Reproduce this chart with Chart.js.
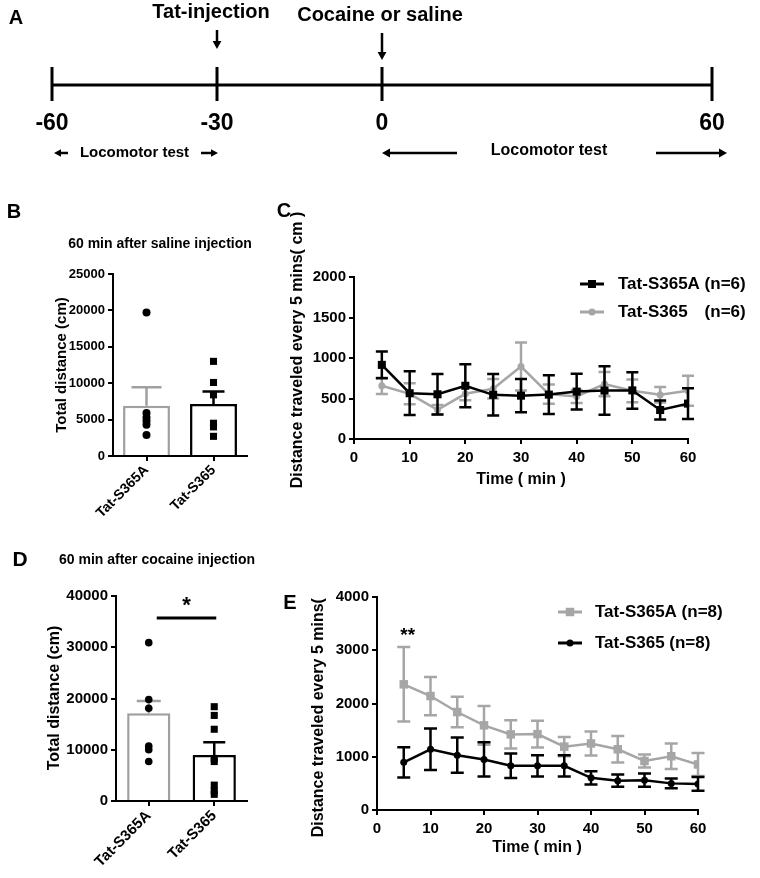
<!DOCTYPE html>
<html>
<head>
<meta charset="utf-8">
<script src="https://cdn.jsdelivr.net/npm/chart.js@4.4.1/dist/chart.umd.min.js"></script>
<style>
  body { margin: 0; background: #fff; }
  #fig { position: relative; width: 760px; height: 878px; overflow: hidden; }
  #fig canvas { position: absolute; }
</style>
</head>
<body>
<div id="fig">
  <canvas id="cA" width="760" height="170" style="left:0px;top:0px"></canvas>
  <canvas id="cB" width="270" height="345" style="left:0px;top:195px"></canvas>
  <canvas id="cC" width="490" height="300" style="left:270px;top:195px"></canvas>
  <canvas id="cD" width="270" height="333" style="left:0px;top:545px"></canvas>
  <canvas id="cE" width="490" height="298" style="left:270px;top:580px"></canvas>
</div>
<script>
// timeline (panel A)
const timelineTicks = [-60, -30, 0, 60];

// panels B / D : total distance, 60 min
const groups = ['Tat-S365A', 'Tat-S365'];
const salineMean = [6900, 7150];
const salineSem = [2530, 1700];
const salineDotsA = [19700, 5900, 5300, 4800, 4300, 2900];
const salineDotsB = [13000, 10100, 8400, 4500, 4000, 2700];
const cocaineMean = [17100, 9000];
const cocaineSem = [2400, 2450];
const cocaineDotsA = [30900, 19800, 18100, 10700, 10000, 7700];
const cocaineDotsB = [18400, 16700, 14000, 8300, 7700, 3100, 2000, 1300];

// panels C / E : distance every 5 min
const timeMin = [5, 10, 15, 20, 25, 30, 35, 40, 45, 50, 55, 60];
const salS365A = [915, 565, 552, 657, 545, 535, 548, 585, 598, 600, 358, 437];
const salS365ASem = [165, 270, 250, 265, 256, 205, 240, 220, 300, 225, 118, 190];
const salS365 = [657, 558, 361, 558, 620, 895, 554, 525, 678, 595, 546, 595];
const salS365Sem = [100, 130, 60, 80, 120, 295, 120, 80, 150, 140, 95, 185];
const cocS365A = [2360, 2140, 1840, 1590, 1420, 1425, 1190, 1250, 1140, 920, 1010, 855];
const cocS365ASem = [700, 360, 285, 365, 265, 250, 180, 225, 250, 120, 240, 215];
const cocS365 = [895, 1140, 1030, 950, 830, 830, 830, 605, 550, 560, 500, 490];
const cocS365Sem = [285, 390, 330, 320, 230, 200, 200, 125, 115, 125, 90, 130];

const FONT = '"Liberation Sans", Arial, sans-serif';
const GRAY = '#a6a6a6';
Chart.defaults.font.family = FONT;
Chart.defaults.font.weight = 'bold';
Chart.defaults.color = '#000';
Chart.defaults.animation = false;
Chart.defaults.plugins.legend.display = false;
Chart.defaults.plugins.tooltip.enabled = false;

function txt(ctx, s, x, y, size, o = {}) {
  ctx.save();
  ctx.font = 'bold ' + size + 'px ' + FONT;
  ctx.fillStyle = o.color || '#000';
  ctx.textAlign = o.align || 'center';
  ctx.textBaseline = 'middle';
  ctx.translate(x, y);
  if (o.rot) ctx.rotate(o.rot);
  ctx.fillText(s, 0, 0);
  ctx.restore();
}

function arrow(ctx, x1, y1, x2, y2, w, head) {
  const a = Math.atan2(y2 - y1, x2 - x1);
  ctx.save();
  ctx.strokeStyle = '#000';
  ctx.fillStyle = '#000';
  ctx.lineWidth = w;
  ctx.beginPath();
  ctx.moveTo(x1, y1);
  ctx.lineTo(x2 - Math.cos(a) * head * 0.8, y2 - Math.sin(a) * head * 0.8);
  ctx.stroke();
  ctx.beginPath();
  ctx.moveTo(x2, y2);
  ctx.lineTo(x2 - head * Math.cos(a) + head * 0.55 * Math.sin(a), y2 - head * Math.sin(a) - head * 0.55 * Math.cos(a));
  ctx.lineTo(x2 - head * Math.cos(a) - head * 0.55 * Math.sin(a), y2 - head * Math.sin(a) + head * 0.55 * Math.cos(a));
  ctx.closePath();
  ctx.fill();
  ctx.restore();
}

function marker(ctx, style, x, y, r, color) {
  ctx.save();
  ctx.fillStyle = color;
  ctx.beginPath();
  if (style === 'rect') {
    const h = r * Math.SQRT1_2;
    ctx.rect(x - h, y - h, 2 * h, 2 * h);
  } else {
    ctx.arc(x, y, r, 0, Math.PI * 2);
  }
  ctx.fill();
  ctx.restore();
}

// mean +/- SEM bars, drawn right after each dataset
const errorBars = {
  id: 'errorBars',
  afterDatasetDraw(chart, args) {
    const ds = chart.data.datasets[args.index];
    if (!ds.sem) return;
    const ys = chart.scales.y;
    const ctx = chart.ctx;
    ctx.save();
    ctx.lineWidth = ds.errWidth || 2.5;
    args.meta.data.forEach((el, i) => {
      const d = ds.data[i];
      const m = typeof d === 'object' ? d.y : d;
      const col = Array.isArray(ds.errColor) ? ds.errColor[i] : ds.errColor;
      const half = Array.isArray(ds.capHalf) ? ds.capHalf[i] : ds.capHalf;
      const top = ys.getPixelForValue(m + ds.sem[i]);
      const bot = ds.upOnly ? el.y : ys.getPixelForValue(m - ds.sem[i]);
      ctx.strokeStyle = col;
      ctx.beginPath();
      ctx.moveTo(el.x, bot); ctx.lineTo(el.x, top);
      ctx.moveTo(el.x - half, top); ctx.lineTo(el.x + half, top);
      if (!ds.upOnly) { ctx.moveTo(el.x - half, bot); ctx.lineTo(el.x + half, bot); }
      ctx.stroke();
    });
    ctx.restore();
  }
};

function axisStyle(tickSize) {
  return {
    grid: { drawOnChartArea: false, drawTicks: true, tickLength: 5, color: '#000', lineWidth: 2 },
    border: { display: true, color: '#000', width: 2 },
    ticks: { font: { size: tickSize, weight: 'bold' }, color: '#000', autoSkip: false }
  };
}

function barScales(max, step, tickSize, xSize, yW, xH) {
  const x = axisStyle(xSize);
  x.type = 'category';
  x.offset = true;
  x.grid.offset = false;
  x.ticks.maxRotation = 45;
  x.ticks.minRotation = 45;
  x.ticks.padding = 1;
  x.afterFit = s => { s.height = xH; };
  const y = axisStyle(tickSize);
  y.min = 0; y.max = max;
  y.ticks.stepSize = step;
  y.ticks.padding = 3;
  y.ticks.callback = v => String(v);
  y.afterFit = s => { s.width = yW; };
  return { x, y };
}

function lineScales(ymax, ystep, yW, xH) {
  const x = axisStyle(15);
  x.type = 'linear';
  x.min = 0; x.max = 60;
  x.ticks.stepSize = 10;
  x.ticks.padding = 5;
  x.afterFit = s => { s.height = xH; };
  const y = axisStyle(15);
  y.min = 0; y.max = ymax;
  y.ticks.stepSize = ystep;
  y.ticks.padding = 3;
  y.ticks.callback = v => String(v);
  y.afterFit = s => { s.width = yW; };
  return { x, y };
}

const pts = (arr) => timeMin.map((t, i) => ({ x: t, y: arr[i] }));
const dots = (g, arr) => arr.map(v => ({ x: g, y: v }));

// ---------- A : timeline ----------
new Chart(document.getElementById('cA'), {
  type: 'line',
  data: {
    datasets: [{
      data: [{ x: timelineTicks[0], y: 0 }, { x: timelineTicks[timelineTicks.length - 1], y: 0 }],
      borderColor: '#000', borderWidth: 3, pointRadius: 0
    }]
  },
  options: {
    responsive: false,
    layout: { padding: { left: 52, right: 48, top: 70, bottom: 0 } },
    scales: {
      x: {
        type: 'linear', min: -60, max: 60,
        afterBuildTicks: s => { s.ticks = timelineTicks.map(v => ({ value: v })); },
        grid: { display: false }, border: { display: false },
        ticks: { font: { size: 23, weight: 'bold' }, color: '#000', padding: 2 },
        afterFit: s => { s.height = 70; }
      },
      y: { display: false, min: -1, max: 1 }
    }
  },
  plugins: [{
    id: 'timeline',
    afterDraw(chart) {
      const ctx = chart.ctx, xs = chart.scales.x;
      const yl = chart.scales.y.getPixelForValue(0);
      const px = v => xs.getPixelForValue(v);
      ctx.save();
      ctx.strokeStyle = '#000';
      ctx.lineWidth = 3;
      timelineTicks.forEach(v => {
        ctx.beginPath();
        ctx.moveTo(px(v), yl - 18); ctx.lineTo(px(v), yl + 16);
        ctx.stroke();
      });
      ctx.restore();
      txt(ctx, 'A', 16, 18, 20);
      txt(ctx, 'Tat-injection', px(-30) - 6, 12, 20);
      arrow(ctx, px(-30), 30, px(-30), 49, 2.5, 8);
      txt(ctx, 'Cocaine or saline', px(0) - 2, 15, 20);
      arrow(ctx, px(0), 33, px(0), 60, 2.5, 8);
      const yb = 153;
      arrow(ctx, px(-60) + 16, yb, px(-60) + 2, yb, 2.5, 7);
      arrow(ctx, px(-30) - 16, yb, px(-30) + 1, yb, 2.5, 7);
      txt(ctx, 'Locomotor test', (px(-60) + px(-30)) / 2, yb, 15);
      arrow(ctx, px(0) + 75, yb, px(0), yb, 2.5, 8);
      arrow(ctx, px(60) - 56, yb, px(60) + 15, yb, 2.5, 8);
      txt(ctx, 'Locomotor test', (px(0) + px(60)) / 2 + 2, yb - 2, 16);
    }
  }]
});

// ---------- B : saline totals ----------
new Chart(document.getElementById('cB'), {
  type: 'bar',
  data: {
    labels: groups,
    datasets: [
      { type: 'scatter', data: dots(groups[0], salineDotsA), pointStyle: 'circle', pointRadius: 4, backgroundColor: '#000', borderColor: '#000', borderWidth: 0 },
      { type: 'scatter', data: dots(groups[1], salineDotsB), pointStyle: 'rect', pointRadius: 5, backgroundColor: '#000', borderColor: '#000', borderWidth: 0 },
      {
        data: salineMean, backgroundColor: '#fff', borderColor: ['#a0a0a0', '#000'], borderWidth: 2.5,
        barPercentage: 0.7, categoryPercentage: 1,
        sem: salineSem, upOnly: true, errColor: ['#a0a0a0', '#000'], capHalf: [15, 11]
      }
    ]
  },
  options: {
    responsive: false,
    layout: { padding: { left: 0, top: 79, right: 23, bottom: 0 } },
    scales: barScales(25000, 5000, 13, 14, 113, 84)
  },
  plugins: [errorBars, {
    id: 'decoB',
    afterDraw(chart) {
      const ctx = chart.ctx;
      txt(ctx, 'B', 14, 17, 20);
      txt(ctx, '60 min after saline injection', 160, 49, 14);
      txt(ctx, 'Total distance (cm)', 62, 170, 15, { rot: -Math.PI / 2 });
    }
  }]
});

// ---------- C : saline time course ----------
new Chart(document.getElementById('cC'), {
  type: 'line',
  data: {
    datasets: [
      {
        data: pts(salS365A), borderColor: '#000', borderWidth: 2.5, tension: 0,
        pointStyle: 'rect', pointRadius: 5.7, pointBackgroundColor: '#000', pointBorderWidth: 0,
        sem: salS365ASem, errColor: '#000', capHalf: 6
      },
      {
        data: pts(salS365), borderColor: GRAY, borderWidth: 2.5, tension: 0,
        pointStyle: 'circle', pointRadius: 3.5, pointBackgroundColor: GRAY, pointBorderWidth: 0,
        sem: salS365Sem, errColor: GRAY, capHalf: 6
      }
    ]
  },
  options: {
    responsive: false,
    layout: { padding: { left: 0, top: 82, right: 72, bottom: 0 } },
    scales: lineScales(2000, 500, 84, 56)
  },
  plugins: [errorBars, {
    id: 'decoC',
    afterDraw(chart) {
      const ctx = chart.ctx;
      txt(ctx, 'Distance traveled every 5 mins( cm )', 28, 155, 16, { rot: -Math.PI / 2 });
      txt(ctx, 'C', 14, 16, 20);
      txt(ctx, 'Time ( min )', 251, 285, 16);
      ctx.save();
      ctx.lineWidth = 3;
      [[89, '#000', 'rect', 5.7], [117, GRAY, 'circle', 3.5]].forEach(([y, c, st, r]) => {
        ctx.strokeStyle = c;
        ctx.beginPath(); ctx.moveTo(310, y); ctx.lineTo(334, y); ctx.stroke();
        marker(ctx, st, 322, y, r, c);
      });
      ctx.restore();
      ctx.font = 'bold 17px ' + FONT;
      const w = ctx.measureText('Tat-S365A (n=6)').width;
      txt(ctx, 'Tat-S365A (n=6)', 348, 89, 17, { align: 'left' });
      txt(ctx, 'Tat-S365', 348, 117, 17, { align: 'left' });
      txt(ctx, '(n=6)', 348 + w, 117, 17, { align: 'right' });
    }
  }]
});

// ---------- D : cocaine totals ----------
new Chart(document.getElementById('cD'), {
  type: 'bar',
  data: {
    labels: groups,
    datasets: [
      { type: 'scatter', data: dots(groups[0], cocaineDotsA), pointStyle: 'circle', pointRadius: 3.8, backgroundColor: '#000', borderColor: '#000', borderWidth: 0 },
      { type: 'scatter', data: dots(groups[1], cocaineDotsB), pointStyle: 'rect', pointRadius: 5, backgroundColor: '#000', borderColor: '#000', borderWidth: 0 },
      {
        data: cocaineMean, backgroundColor: '#fff', borderColor: ['#a0a0a0', '#000'], borderWidth: 2.5,
        barPercentage: 0.66, categoryPercentage: 1,
        sem: cocaineSem, upOnly: true, errColor: ['#a0a0a0', '#000'], capHalf: [12, 11]
      }
    ]
  },
  options: {
    responsive: false,
    layout: { padding: { left: 0, top: 51, right: 23, bottom: 0 } },
    scales: barScales(40000, 10000, 15, 15, 116, 77)
  },
  plugins: [errorBars, {
    id: 'decoD',
    afterDraw(chart) {
      const ctx = chart.ctx, xs = chart.scales.x, ys = chart.scales.y;
      txt(ctx, 'D', 20, 15, 21);
      txt(ctx, '60 min after cocaine injection', 157, 15, 14);
      txt(ctx, 'Total distance (cm)', 55, 153, 16, { rot: -Math.PI / 2 });
      const yl = ys.getPixelForValue(35700);
      ctx.save();
      ctx.strokeStyle = '#000';
      ctx.lineWidth = 3;
      ctx.beginPath();
      ctx.moveTo(xs.getPixelForValue(0) + 8, yl);
      ctx.lineTo(xs.getPixelForValue(1) + 2, yl);
      ctx.stroke();
      ctx.restore();
      txt(ctx, '*', (xs.getPixelForValue(0) + xs.getPixelForValue(1)) / 2 + 5, ys.getPixelForValue(38000), 22);
    }
  }]
});

// ---------- E : cocaine time course ----------
new Chart(document.getElementById('cE'), {
  type: 'line',
  data: {
    datasets: [
      {
        data: pts(cocS365), borderColor: '#000', borderWidth: 2.5, tension: 0,
        pointStyle: 'circle', pointRadius: 3.5, pointBackgroundColor: '#000', pointBorderWidth: 0,
        sem: cocS365Sem, errColor: '#000', capHalf: 6.5
      },
      {
        data: pts(cocS365A), borderColor: GRAY, borderWidth: 2.5, tension: 0,
        pointStyle: 'rect', pointRadius: 6, pointBackgroundColor: GRAY, pointBorderWidth: 0,
        sem: cocS365ASem, errColor: GRAY, capHalf: 6.5
      }
    ]
  },
  options: {
    responsive: false,
    layout: { padding: { left: 0, top: 17, right: 62, bottom: 0 } },
    scales: lineScales(4000, 1000, 107, 68)
  },
  plugins: [errorBars, {
    id: 'decoE',
    afterDraw(chart) {
      const ctx = chart.ctx, xs = chart.scales.x, ys = chart.scales.y;
      ctx.save();
      ctx.beginPath(); ctx.rect(0, 18, 200, 300); ctx.clip();
      txt(ctx, 'Distance traveled every 5 mins( cm )', 49, 119, 16, { rot: -Math.PI / 2 });
      ctx.restore();
      txt(ctx, 'E', 20, 23, 20);
      txt(ctx, 'Time ( min )', 267, 268, 16);
      txt(ctx, '**', xs.getPixelForValue(5) + 4, ys.getPixelForValue(3280), 19);
      ctx.save();
      ctx.lineWidth = 3;
      [[32, GRAY, 'rect', 6], [63, '#000', 'circle', 3.5]].forEach(([y, c, st, r]) => {
        ctx.strokeStyle = c;
        ctx.beginPath(); ctx.moveTo(288, y); ctx.lineTo(312, y); ctx.stroke();
        marker(ctx, st, 300, y, r, c);
      });
      ctx.restore();
      txt(ctx, 'Tat-S365A (n=8)', 325, 32, 17, { align: 'left' });
      txt(ctx, 'Tat-S365 (n=8)', 325, 63, 17, { align: 'left' });
    }
  }]
});
</script>
</body>
</html>
